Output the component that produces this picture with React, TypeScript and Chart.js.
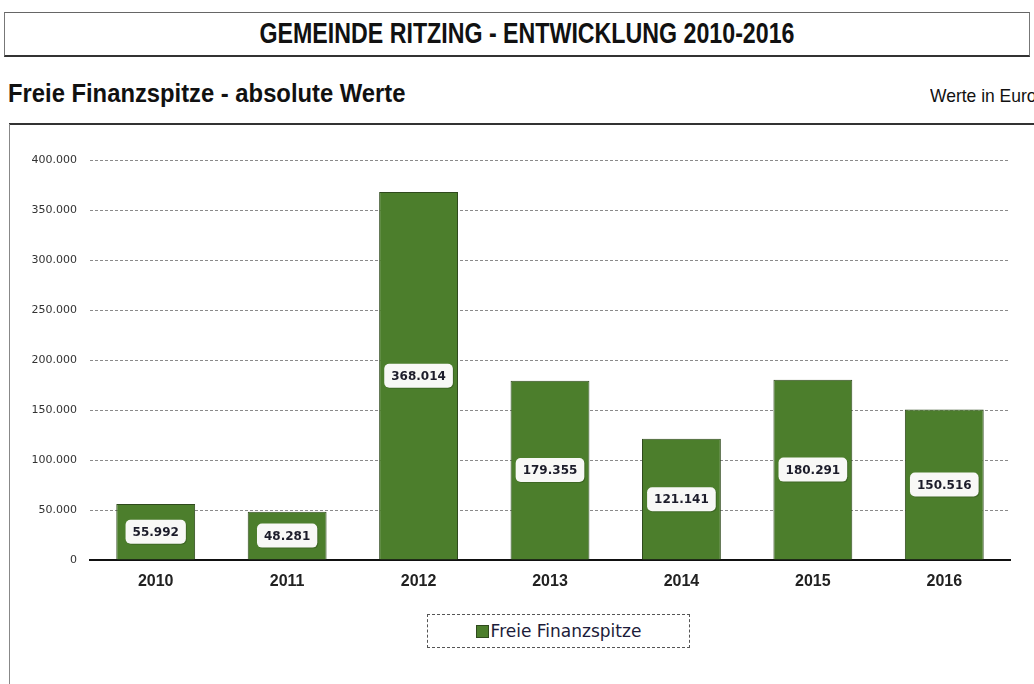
import React, { useEffect, useRef } from "react";
import { Chart, registerables } from "chart.js";

Chart.register(...registerables);

const categories = ["2010", "2011", "2012", "2013", "2014", "2015", "2016"];
const values = [55992, 48281, 368014, 179355, 121141, 180291, 150516];
const yTicks = [0, 50000, 100000, 150000, 200000, 250000, 300000, 350000, 400000];
const seriesName = "Freie Finanzspitze";
const title = "GEMEINDE RITZING - ENTWICKLUNG 2010-2016";
const subtitle = "Freie Finanzspitze - absolute Werte";
const unitNote = "Werte in Euro";

const GREEN = "#4c7e2c";
const DEJAVU = "'DejaVu Sans', Verdana, sans-serif";
const SANS = "'Liberation Sans', Arial, sans-serif";

function fmt(n: number): string {
  const s = Math.round(n).toString();
  return s.replace(/\B(?=(\d{3})+(?!\d))/g, ".");
}

const labelPlugin = {
  id: "barLabels",
  afterDatasetsDraw(chart: any) {
    const ctx = chart.ctx;
    const meta = chart.getDatasetMeta(0);
    ctx.save();
    ctx.font = "bold 12px " + DEJAVU;
    ctx.textAlign = "center";
    ctx.textBaseline = "middle";
    meta.data.forEach((bar: any, i: number) => {
      const txt = fmt(values[i]);
      const cy = (bar.y + bar.base) / 2;
      const w = ctx.measureText(txt).width + 14;
      const h = 24;
      const x0 = bar.x - w / 2;
      const y0 = cy - h / 2;
      ctx.fillStyle = "rgba(0,0,0,0.18)";
      ctx.beginPath();
      (ctx as any).roundRect(x0 + 1, y0 + 1, w, h, 5);
      ctx.fill();
      ctx.fillStyle = "#f8f8f6";
      ctx.beginPath();
      (ctx as any).roundRect(x0, y0, w, h, 5);
      ctx.fill();
      ctx.fillStyle = "#1c1c2a";
      ctx.fillText(txt, bar.x, cy + 1);
    });
    ctx.restore();
  },
};

export default function App() {
  const ref = useRef<HTMLCanvasElement | null>(null);
  useEffect(() => {
    if (!ref.current) return;
    const chart = new Chart(ref.current, {
      type: "bar",
      data: {
        labels: categories,
        datasets: [
          {
            label: seriesName,
            data: values,
            backgroundColor: GREEN,
            borderColor: "#2f4a1d",
            borderWidth: 1,
            categoryPercentage: 0.6,
            barPercentage: 1,
          },
        ],
      },
      options: {
        animation: false,
        responsive: false,
        devicePixelRatio: 1,
        layout: { padding: { left: 0, right: 24, top: 30, bottom: 0 } },
        plugins: {
          legend: { display: false },
          tooltip: { enabled: false },
          title: { display: false },
        },
        scales: {
          x: {
            grid: { display: false, drawTicks: false },
            border: { display: true, color: "#111", width: 2 },
            ticks: {
              padding: 12,
              color: "#222",
              font: { family: SANS, size: 16, weight: "bold" },
            },
            afterFit: (s: any) => {
              s.height = 50;
            },
          },
          y: {
            min: 0,
            max: 400000,
            afterBuildTicks: (s: any) => {
              s.ticks = yTicks.map((v) => ({ value: v }));
            },
            grid: {
              drawTicks: false,
              color: (c: any) => (c.tick && c.tick.value === 0 ? "rgba(0,0,0,0)" : "#8a8a8a"),
              lineWidth: 1,
            },
            border: { display: false, dash: [3, 2] },
            ticks: {
              padding: 13,
              color: "#333",
              font: { family: DEJAVU, size: 11 },
              callback: (v: any) => fmt(Number(v)),
            },
            afterFit: (s: any) => {
              s.width = 90;
            },
          },
        },
      } as any,
      plugins: [labelPlugin],
    });
    return () => chart.destroy();
  }, []);

  return (
    <div
      style={{
        position: "absolute",
        left: 0,
        top: 0,
        width: 1034,
        height: 684,
        overflow: "hidden",
        background: "#fff",
        fontFamily: SANS,
      }}
    >
      <div
        style={{
          position: "absolute",
          left: 4,
          top: 12,
          width: 1026,
          height: 45,
          borderTop: "1px solid #666",
          borderLeft: "1px solid #777",
          borderRight: "1px solid #777",
          borderBottom: "2px solid #333",
          boxSizing: "border-box",
        }}
      />
      <div
        style={{
          position: "absolute",
          left: 0,
          width: 1054,
          top: 16,
          textAlign: "center",
          fontWeight: "bold",
          fontSize: 29,
          color: "#111",
          lineHeight: "34px",
          whiteSpace: "nowrap",
          transform: "scaleX(0.8)",
          transformOrigin: "527px 0",
        }}
      >
        {title}
      </div>
      <div
        style={{
          position: "absolute",
          left: 8,
          top: 77,
          fontWeight: "bold",
          fontSize: 26,
          color: "#111",
          lineHeight: "32px",
          whiteSpace: "nowrap",
          transform: "scaleX(0.915)",
          transformOrigin: "0 0",
        }}
      >
        {subtitle}
      </div>
      <div
        style={{
          position: "absolute",
          left: 930,
          top: 85,
          fontSize: 19,
          color: "#111",
          lineHeight: "22px",
          whiteSpace: "nowrap",
          transform: "scaleX(0.92)",
          transformOrigin: "0 0",
        }}
      >
        {unitNote}
      </div>
      <div
        style={{
          position: "absolute",
          left: 9,
          top: 123,
          width: 1030,
          height: 0,
          borderTop: "2px solid #333",
        }}
      />
      <div
        style={{
          position: "absolute",
          left: 9,
          top: 124,
          width: 0,
          height: 570,
          borderLeft: "1px solid #888",
        }}
      />
      <canvas
        ref={ref}
        width={1034}
        height={480}
        style={{ position: "absolute", left: 0, top: 130, width: 1034, height: 480 }}
      />
      <div
        style={{
          position: "absolute",
          left: 427,
          top: 614,
          width: 263,
          height: 34,
          border: "1px dashed #555",
          boxSizing: "border-box",
          display: "flex",
          alignItems: "center",
          justifyContent: "center",
          fontFamily: DEJAVU,
          fontSize: 17,
          color: "#1c1c3a",
        }}
      >
        <span
          style={{
            display: "inline-block",
            width: 11,
            height: 11,
            background: GREEN,
            border: "1px solid #2f4a1d",
            marginRight: 2,
          }}
        />
        {seriesName}
      </div>
    </div>
  );
}
